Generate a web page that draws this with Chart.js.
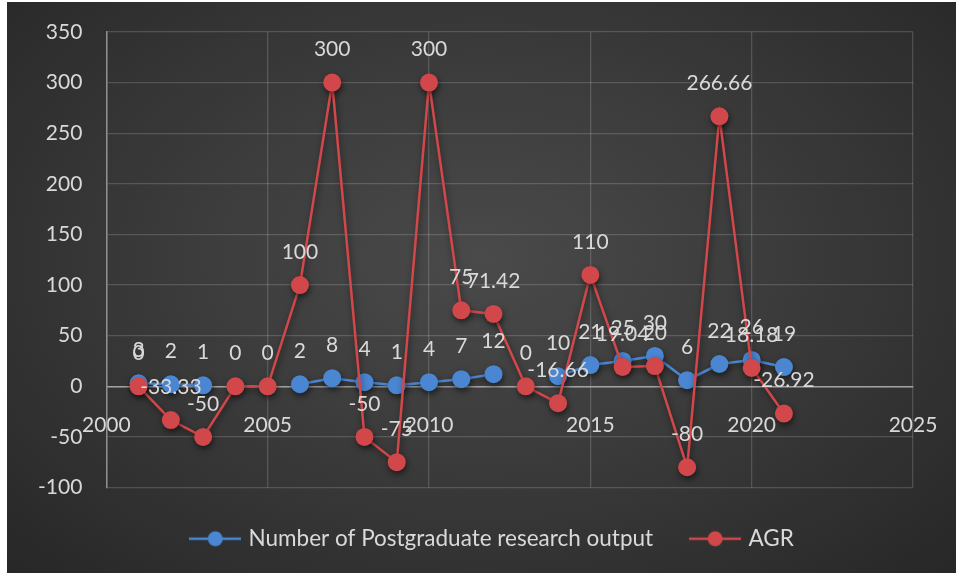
<!DOCTYPE html>
<html>
<head>
<meta charset="utf-8">
<script src="https://cdn.jsdelivr.net/npm/chart.js@4"></script>
<style>
  html, body { margin: 0; padding: 0; background: #fff; }
  #wrap {
    position: absolute; left: 7px; top: 2px; width: 949px; height: 571px;
    background: radial-gradient(ellipse at 50% 45%, #4a4a4a 0%, #3b3b3b 45%, #272727 100%);
  }
</style>
</head>
<body>
<div id="wrap"><canvas id="myChart"></canvas></div>
<script>
// anni (asse x)
const years = [2001, 2002, 2003, 2004, 2005, 2006, 2007, 2008, 2009, 2010, 2011,
  2012, 2013, 2014, 2015, 2016, 2017, 2018, 2019, 2020, 2021];
// numero di output di ricerca (celle vuote = null)
const outputCounts = [3, 2, 1, null, null, 2, 8, 4, 1, 4, 7,
  12, null, 10, 21, 25, 30, 6, 22, 26, 19];
// AGR
const agrValues = [0, -33.33, -50, 0, 0, 100, 300, -50, -75, 300, 75,
  71.42, 0, -16.66, 110, 19.04, 20, -80, 266.66, 18.18, -26.92];
const seriesNames = ['Number of Postgraduate research output', 'AGR'];
const yTicks = { min: -100, max: 350, step: 50 };
const xTicks = { min: 2000, max: 2025, step: 5 };

const textColor = '#d9d9d9';
const fontFamily = 'Lato, "Open Sans", sans-serif';
const blue = '#4a86d2';
const red = '#d2474a';

// trasformo gli array in punti {x, y}
function toPoints(values) {
  return years.map((y, i) => ({ x: y, y: values[i] }));
}

// icona della legenda: linea + cerchio
function legendIcon(color) {
  const c = document.createElement('canvas');
  c.width = 52; c.height = 18;
  const g = c.getContext('2d');
  g.strokeStyle = color;
  g.lineWidth = 2.5;
  g.beginPath(); g.moveTo(0, 9); g.lineTo(52, 9); g.stroke();
  g.fillStyle = color;
  g.beginPath(); g.arc(26, 9, 7.5, 0, Math.PI * 2); g.fill();
  return c;
}

// ombra sotto linee e punti
const shadowPlugin = {
  id: 'shadow',
  beforeDatasetsDraw(chart) {
    const ctx = chart.ctx;
    ctx.save();
    ctx.shadowColor = 'rgba(0,0,0,0.55)';
    ctx.shadowBlur = 6;
    ctx.shadowOffsetX = 1;
    ctx.shadowOffsetY = 3;
  },
  afterDatasetsDraw(chart) {
    chart.ctx.restore();
  }
};

// etichette dei valori sopra i punti
const labelPlugin = {
  id: 'pointLabels',
  afterDatasetsDraw(chart) {
    const ctx = chart.ctx;
    ctx.save();
    ctx.font = '21px ' + fontFamily;
    ctx.fillStyle = textColor;
    ctx.textAlign = 'center';
    ctx.textBaseline = 'middle';
    chart.data.datasets.forEach((ds, di) => {
      const meta = chart.getDatasetMeta(di);
      meta.data.forEach((pt, i) => {
        const v = ds.data[i].y;
        if (v === null || v === undefined) return;
        ctx.fillText(String(v), pt.x, pt.y - 33);
      });
    });
    ctx.restore();
  }
};

// sposto un po' la legenda verso destra
const legendShift = {
  id: 'legendShift',
  afterLayout(chart) {
    chart.legend.left += 30;
    chart.legend.right += 30;
  }
};

const ctx = document.getElementById('myChart');
new Chart(ctx, {
  type: 'scatter',
  data: {
    datasets: [{
      label: seriesNames[0],
      data: toPoints(outputCounts),
      showLine: true,
      spanGaps: false,
      borderColor: blue,
      backgroundColor: blue,
      borderWidth: 2.5,
      pointRadius: 9,
      pointHoverRadius: 9,
      pointBorderWidth: 0,
      pointStyle: 'circle',
      order: 2
    }, {
      label: seriesNames[1],
      data: toPoints(agrValues),
      showLine: true,
      borderColor: red,
      backgroundColor: red,
      borderWidth: 2.5,
      pointRadius: 9,
      pointHoverRadius: 9,
      pointBorderWidth: 0,
      pointStyle: 'circle',
      order: 1
    }]
  },
  options: {
    responsive: true,
    maintainAspectRatio: false,
    animation: false,
    layout: { padding: { left: 7, right: 43, top: 30, bottom: 13 } },
    scales: {
      x: {
        type: 'linear',
        position: { y: 0 },
        min: xTicks.min,
        max: xTicks.max,
        afterFit(scale) {
          scale.paddingLeft = 0;
          scale.paddingRight = 0;
        },
        ticks: {
          stepSize: xTicks.step,
          color: textColor,
          font: { family: fontFamily, size: 21 },
          padding: 26,
          maxRotation: 0,
          callback: (v) => String(v)
        },
        grid: { color: 'rgba(255,255,255,0.16)', lineWidth: 1.3, drawTicks: false },
        border: { color: '#a3a3a3', width: 1.5 }
      },
      y: {
        min: yTicks.min,
        max: yTicks.max,
        afterFit(scale) {
          scale.paddingTop = 13;
        },
        ticks: {
          stepSize: yTicks.step,
          color: textColor,
          font: { family: fontFamily, size: 21 },
          padding: 24
        },
        grid: { color: 'rgba(255,255,255,0.16)', lineWidth: 1.3, drawTicks: false },
        border: { color: '#8f8f8f', width: 1.5 }
      }
    },
    plugins: {
      tooltip: { enabled: false },
      legend: {
        display: true,
        position: 'bottom',
        labels: {
          color: textColor,
          font: { family: fontFamily, size: 22.5 },
          usePointStyle: true,
          pointStyleWidth: 44,
          padding: 40,
          generateLabels(chart) {
            return chart.data.datasets.map((ds, i) => ({
              text: ds.label,
              fontColor: textColor,
              pointStyle: legendIcon(ds.borderColor),
              datasetIndex: i,
              lineWidth: 0,
              strokeStyle: 'transparent',
              fillStyle: 'transparent'
            }));
          }
        }
      }
    }
  },
  plugins: [shadowPlugin, labelPlugin, legendShift]
});
</script>
</body>
</html>
